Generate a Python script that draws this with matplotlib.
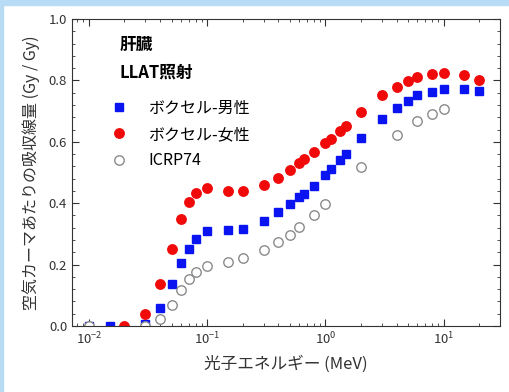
import numpy as np
import matplotlib
matplotlib.use("Agg")
import matplotlib.pyplot as plt
from matplotlib.patches import Rectangle
from matplotlib.ticker import AutoMinorLocator, FormatStrFormatter

plt.rcParams['font.family'] = ['Noto Sans CJK JP', 'DejaVu Sans']

# photon energy (MeV) and dose per unit air kerma (Gy/Gy)
energy = [0.01, 0.015, 0.02, 0.03, 0.04, 0.05, 0.06, 0.07, 0.08, 0.1, 0.15, 0.2,
          0.3, 0.4, 0.5, 0.6, 0.662, 0.8, 1.0, 1.12, 1.33, 1.5, 2, 3, 4, 5, 6,
          8, 10, 15, 20]
voxel_male = [0.0, 0.0, np.nan, 0.008, 0.060, 0.136, 0.206, 0.252, 0.283, 0.308,
              0.313, 0.317, 0.343, 0.370, 0.396, 0.419, 0.430, 0.456, 0.491,
              0.510, 0.541, 0.560, 0.611, 0.673, 0.709, 0.734, 0.751, 0.763,
              0.771, 0.771, 0.765]
voxel_female = [np.nan, np.nan, 0.0, 0.039, 0.138, 0.252, 0.350, 0.405, 0.432,
                0.449, 0.441, 0.441, 0.459, 0.482, 0.507, 0.530, 0.543, 0.567,
                0.595, 0.609, 0.635, 0.652, 0.696, 0.751, 0.780, 0.798, 0.810,
                0.821, 0.823, 0.819, 0.801]

energy_icrp = [0.01, 0.03, 0.04, 0.05, 0.06, 0.07, 0.08, 0.1, 0.15, 0.2, 0.3,
               0.4, 0.5, 0.6, 0.8, 1.0, 2, 4, 6, 8, 10]
icrp74 = [0.0, 0.0, 0.024, 0.067, 0.117, 0.153, 0.177, 0.195, 0.209, 0.220,
          0.248, 0.273, 0.297, 0.321, 0.362, 0.397, 0.517, 0.623, 0.667, 0.691,
          0.708]

labels = ['ボクセル-男性', 'ボクセル-女性', 'ICRP74']

fig = plt.figure(figsize=(5.09, 3.92), dpi=100)
fig.patches.append(Rectangle((0, 1 - 5 / 392), 1, 5 / 392, transform=fig.transFigure,
                             color='#b9dcf6', zorder=-1))
fig.patches.append(Rectangle((0, 0), 3 / 509, 1, transform=fig.transFigure,
                             color='#b9dcf6', zorder=-1))
ax = fig.add_axes([72 / 509, 1 - 326 / 392, 428 / 509, 307 / 392])

ax.plot(energy, voxel_male, 's', color='#0a14f0', ms=6, mec='#0a14f0', label=labels[0])
ax.plot(energy, voxel_female, 'o', color='#f00a0a', ms=6.8, mec='#f00a0a', label=labels[1])
ax.plot(energy_icrp, icrp74, 'o', mfc='white', mec='#8a8a8a', mew=1.0, ms=6.8,
        label=labels[2])

ax.set_xscale('log')
ax.set_xlim(0.0072, 30)
ax.set_ylim(0, 1.0)
ax.yaxis.set_major_formatter(FormatStrFormatter('%.1f'))
ax.yaxis.set_minor_locator(AutoMinorLocator(5))
ax.tick_params(which='both', direction='in', top=True, right=True, color='#333333')
ax.tick_params(which='major', length=5, labelsize=9.5, labelcolor='#333333')
ax.tick_params(which='minor', length=2.5)
for s in ax.spines.values():
    s.set_color('#333333')

ax.set_xlabel('光子エネルギー (MeV)', fontsize=12, color='#333333', labelpad=6)
ax.set_ylabel('空気カーマあたりの吸収線量 (Gy / Gy)', fontsize=11.5, color='#333333',
              labelpad=6)

ax.text(0.112, 0.915, '肝臓', transform=ax.transAxes, fontsize=12, fontweight='bold',
        va='center', ha='left')
ax.text(0.112, 0.824, 'LLAT照射', transform=ax.transAxes, fontsize=12,
        fontweight='bold', va='center', ha='left')
ax.legend(loc='upper left', bbox_to_anchor=(0.047, 0.774), frameon=False, fontsize=11.5,
          handletextpad=0.83, labelspacing=0.59, borderpad=0.2, numpoints=1)

fig.savefig('out.png', dpi=100)
